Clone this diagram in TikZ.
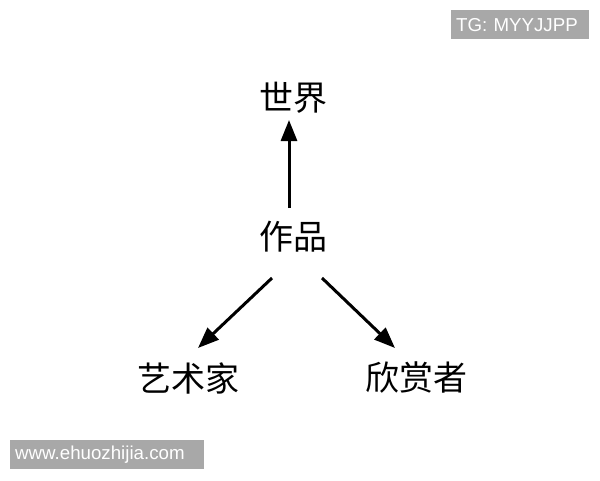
\documentclass[tikz,border=0pt]{standalone}
\usepackage{fontspec}
\setsansfont{Liberation Sans}
\newfontfamily\cjk{Noto Sans CJK SC}
\usetikzlibrary{arrows.meta}
\usetikzlibrary{positioning}
\definecolor{tagfill}{HTML}{A8A8A8}
\tikzset{word/.style = {font=\cjk\fontsize{34}{34}\selectfont, inner sep = 0}}
\tikzset{link/.style = {line width = 3pt, -{Triangle[length=21pt, width=16pt]}}}
\tikzset{tagbox/.style = {fill=tagfill, text=white, anchor=north west, inner xsep=5pt,
                          minimum height=29pt, align=left,
                          font=\sffamily\fontsize{18.7}{18.7}\selectfont}}

\begin{document}
\begin{tikzpicture}[x=1pt, y=-1pt]
    \useasboundingbox (0,0) rectangle (600,480);

    \node [word] (world) at (293, 98) {世界};
    \node [word] (work) at (293, 237) {作品};
    \node [word] (artist) at (188, 378) {艺术家};
    \node [word] (viewer) at (416, 378) {欣赏者};

    \draw [link] ([xshift=-4pt, yshift=29pt]work.center) -- ([xshift=-4pt, yshift=-22pt]world.center);
    \draw [link] ([xshift=-21pt, yshift=-41pt]work.center) -- ([xshift=10pt, yshift=30pt]artist.center);
    \draw [link] ([xshift=29pt, yshift=-41pt]work.center) -- ([xshift=-21pt, yshift=30pt]viewer.center);

    \node [tagbox, text width=128pt] (tg) at (451, 10) {TG: MYYJJPP};
    \node [tagbox, text width=184pt] (site) at (10, 440) {www.ehuozhijia.com};
\end{tikzpicture}
\end{document}
